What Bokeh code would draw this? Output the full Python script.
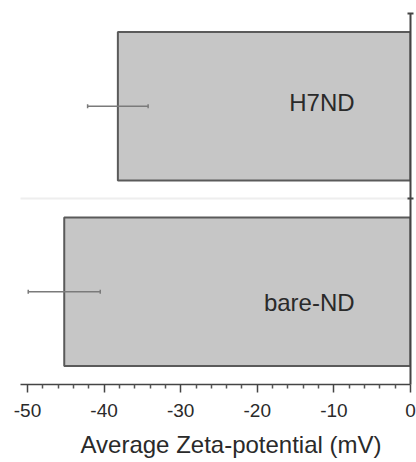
from bokeh.plotting import figure
from bokeh.models import (ColumnDataSource, Range1d, FixedTicker,
                          Whisker, TeeHead, Title)
from bokeh.core.properties import value
from bokeh.embed import file_html
from bokeh.resources import INLINE

# data
samples = ["bare-ND", "H7ND"]
zeta_mean = [-45.2, -38.2]
zeta_err = [4.7, 3.95]
x_ticks = [-50, -40, -30, -20, -10, 0]

FONT = "Liberation Sans"
ypos = [0.5 + i for i in range(len(samples))]
src = ColumnDataSource(dict(
    y=ypos,
    left=zeta_mean,
    right=[0] * len(samples),
    lo=[m - e for m, e in zip(zeta_mean, zeta_err)],
    hi=[m + e for m, e in zip(zeta_mean, zeta_err)],
    name=samples,
    dy=[11, -4],
))

p = figure(width=416, height=462, output_backend="svg", toolbar_location=None,
           x_range=Range1d(-50.91, 0), y_range=Range1d(0, 2.07),
           y_axis_location="right",
           min_border_left=20, min_border_right=6, min_border_top=0, min_border_bottom=78)
p.outline_line_color = None
p.background_fill_color = "white"

p.hbar(y="y", left="left", right="right", height=0.8, source=src,
       fill_color="#c6c6c6", line_color="#5a5a5a", line_width=2)

wh = Whisker(source=src, base="y", lower="lo", upper="hi", dimension="width",
             line_color="#7a7a7a", line_width=1.5, level="overlay",
             lower_head=TeeHead(size=4, line_color="#7a7a7a", line_width=1.5),
             upper_head=TeeHead(size=4, line_color="#7a7a7a", line_width=1.5))
p.add_layout(wh)

p.text(x=-7.3, y="y", text="name", source=src, y_offset="dy",
       text_align="right", text_baseline="middle", text_color="#2a2a2a",
       text_font=value(FONT), text_font_size="24px")

# x axis
xa = p.xaxis[0]
xa.ticker = FixedTicker(ticks=x_ticks, minor_ticks=[-48, -46, -44, -42, -38, -36, -34, -32,
                                                    -28, -26, -24, -22, -18, -16, -14, -12,
                                                    -8, -6, -4, -2])
xa.major_label_overrides = {t: str(t) for t in x_ticks}
xa.axis_line_color = "#444444"
xa.axis_line_width = 1.5
xa.major_tick_line_color = "#444444"
xa.major_tick_line_width = 1.5
xa.minor_tick_line_color = "#555555"
xa.minor_tick_line_width = 1.5
xa.major_tick_in = 0
xa.major_tick_out = 8
xa.minor_tick_in = 0
xa.minor_tick_out = 4
xa.major_label_text_font = FONT
xa.major_label_text_font_size = "19px"
xa.major_label_text_color = "#2a2a2a"
xa.major_label_standoff = 11

# y axis on the right (zero line)
ya = p.yaxis[0]
ya.ticker = FixedTicker(ticks=[1, 2])
ya.bounds = (0, 2)
ya.axis_line_color = "#444444"
ya.axis_line_width = 2
ya.major_tick_line_color = "#444444"
ya.major_tick_line_width = 2
ya.major_tick_in = 3
ya.major_tick_out = 3
ya.minor_tick_line_color = None
ya.major_label_text_font_size = "0px"
ya.major_label_standoff = 0
ya.major_label_text_alpha = 0

p.xgrid.visible = False
p.ygrid.ticker = FixedTicker(ticks=[1])
p.ygrid.grid_line_color = "#dcdcdc"
p.ygrid.grid_line_dash = "1 1"
p.ygrid.grid_line_width = 2

p.add_layout(Title(text="Average Zeta-potential (mV)", align="left", offset=60,
                   text_font=FONT, text_font_size="24px", text_font_style="normal",
                   text_color="#2a2a2a", standoff=4,
                   padding=dict(left=0, right=0, top=7, bottom=0)), "below")

open("out.html", "w").write(file_html(p, INLINE))
